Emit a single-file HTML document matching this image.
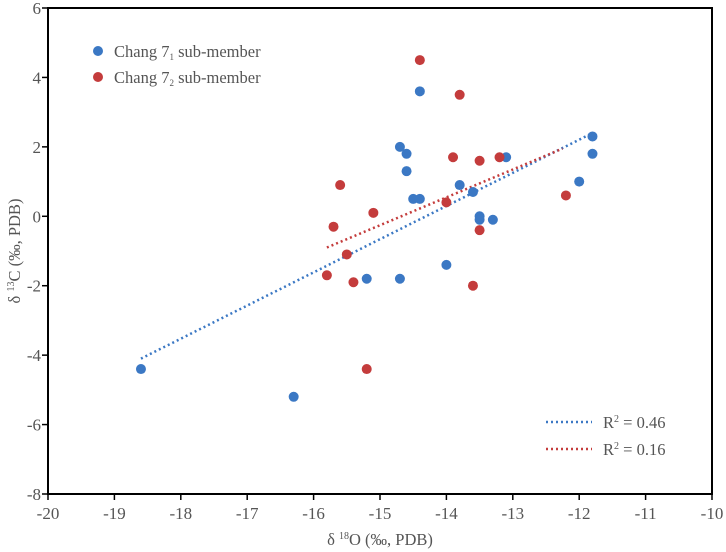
<!DOCTYPE html>
<html><head><meta charset="utf-8"><style>
html,body{margin:0;padding:0;background:#fff;}
svg{display:block;}
text{font-family:"Liberation Serif","DejaVu Serif",serif;}
</style></head><body>
<svg id="chart" width="726" height="552" viewBox="0 0 726 552" style="position:absolute;left:0;top:0"></svg>
<script>
const xTicks=[-20,-19,-18,-17,-16,-15,-14,-13,-12,-11,-10];
const yTicks=[6,4,2,0,-2,-4,-6,-8];
const blueX=[-18.6,-16.3,-15.2,-14.7,-14.7,-14.6,-14.6,-14.5,-14.4,-14.4,-14.0,-13.8,-13.6,-13.5,-13.5,-13.3,-13.1,-12.0,-11.8,-11.8];
const blueY=[-4.4,-5.2,-1.8,-1.8,2.0,1.8,1.3,0.5,0.5,3.6,-1.4,0.9,0.7,0.0,-0.1,-0.1,1.7,1.0,2.3,1.8];
const redX=[-15.8,-15.7,-15.6,-15.5,-15.4,-15.2,-15.1,-14.4,-14.0,-13.9,-13.8,-13.6,-13.5,-13.5,-13.2,-12.2];
const redY=[-1.7,-0.3,0.9,-1.1,-1.9,-4.4,0.1,4.5,0.4,1.7,3.5,-2.0,1.6,-0.4,1.7,0.6];
const blueFitX=[-18.6,-11.85];
const blueFitY=[-4.1,2.35];
const redFitX=[-15.8,-12.25];
const redFitY=[-0.9,1.95];
const BLUE="#3b78c4",RED="#c43c3c";
const L=48,R=712,T=8,B=494;
const sx=v=>L+(v-(-20))/10*(R-L);
const sy=v=>T+(6-v)/14*(B-T);
const svg=document.getElementById('chart');
const NS="http://www.w3.org/2000/svg";
function mk(tag,attrs,parent){const e=document.createElementNS(NS,tag);for(const k in attrs)e.setAttribute(k,attrs[k]);(parent||svg).appendChild(e);return e;}
const frame=mk('rect',{x:L,y:T,width:R-L,height:B-T,fill:'none',stroke:'#000','stroke-width':2});


xTicks.forEach(t=>{
  const ln=mk('line',{x1:sx(t),x2:sx(t),y1:B,y2:B+6,stroke:'#000','stroke-width':1.5});
  
  
  const tx=mk('text',{x:sx(t),y:B+25,'text-anchor':'middle','font-size':17,fill:'#555'});
  tx.textContent=t;
  
  
});
yTicks.forEach(t=>{
  const ln=mk('line',{x1:L-6,x2:L,y1:sy(t),y2:sy(t),stroke:'#000','stroke-width':1.5});
  
  
  const tx=mk('text',{x:L-7,y:sy(t)+6,'text-anchor':'end','font-size':17,fill:'#555'});
  tx.textContent=t;
  
  
});
function fit(xs,ys,c,name){
  const l=mk('line',{x1:sx(xs[0]),y1:sy(ys[0]),x2:sx(xs[1]),y2:sy(ys[1]),stroke:c,'stroke-width':2.5,'stroke-dasharray':'2 3'});
  
  
}
fit(blueFitX,blueFitY,BLUE,'blue-trendline');
fit(redFitX,redFitY,RED,'red-trendline');
function pts(xs,ys,c,name){
  xs.forEach((x,i)=>{
    const p=mk('circle',{cx:sx(x),cy:sy(ys[i]),r:5,fill:c});
    
    
  });
}
pts(blueX,blueY,BLUE,'chang71-point');
pts(redX,redY,RED,'chang72-point');
</script>
<svg style="position:absolute;left:0;top:0" width="726" height="552">
 <g>
  <circle cx="98" cy="51" r="5" fill="#3b78c4"/>
  <text x="114" y="57" font-size="16.5" fill="#555">Chang 7<tspan font-size="9" dy="3">1</tspan><tspan dy="-3"> sub-member</tspan></text>
 </g>
 <g>
  <circle cx="98" cy="77" r="5" fill="#c43c3c"/>
  <text x="114" y="83" font-size="16.5" fill="#555">Chang 7<tspan font-size="9" dy="3">2</tspan><tspan dy="-3"> sub-member</tspan></text>
 </g>
 <g>
  <line x1="546" y1="422" x2="592" y2="422" stroke="#3b78c4" stroke-width="2.5" stroke-dasharray="2 3"/>
  <text x="603" y="428" font-size="16.5" fill="#555">R<tspan font-size="10" dy="-6">2</tspan><tspan dy="6"> = 0.46</tspan></text>
 </g>
 <g>
  <line x1="546" y1="449" x2="592" y2="449" stroke="#c43c3c" stroke-width="2.5" stroke-dasharray="2 3"/>
  <text x="603" y="455" font-size="16.5" fill="#555">R<tspan font-size="10" dy="-6">2</tspan><tspan dy="6"> = 0.16</tspan></text>
 </g>
 <text x="380" y="545" text-anchor="middle" font-size="16.5" fill="#555">δ <tspan font-size="10" dy="-6">18</tspan><tspan dy="6">O (‰, PDB)</tspan></text>
 <text transform="translate(20,251) rotate(-90)" text-anchor="middle" font-size="16.5" fill="#555">δ <tspan font-size="10" dy="-6">13</tspan><tspan dy="6">C (‰, PDB)</tspan></text>
</svg>
</body></html>
